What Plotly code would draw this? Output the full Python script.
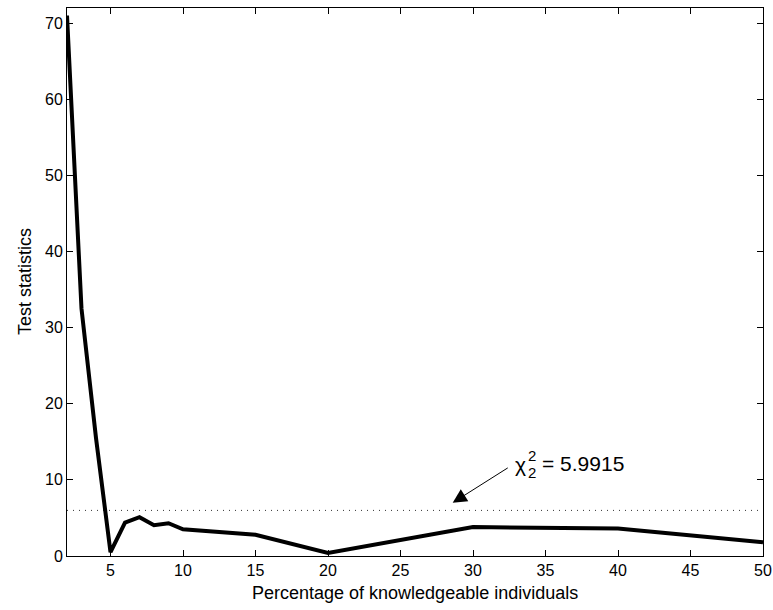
import plotly.graph_objects as go

# Percentage of knowledgeable individuals and the resulting test statistic
pct = [2, 3, 4, 5, 6, 7, 8, 9, 10, 15, 20, 30, 40, 50]
stat = [71.0, 32.5, 15.5, 0.5, 4.4, 5.1, 4.05, 4.3, 3.5, 2.8, 0.4, 3.8, 3.6, 1.8]

# Critical value of chi-square with 2 degrees of freedom
chi2_crit = 5.9915

x_ticks = [5, 10, 15, 20, 25, 30, 35, 40, 45, 50]
y_ticks = [0, 10, 20, 30, 40, 50, 60, 70]

FONT = "Liberation Sans, Arial, Helvetica, sans-serif"

fig = go.Figure()

fig.add_trace(go.Scatter(
    x=[pct[0], pct[-1]], y=[chi2_crit, chi2_crit], mode="lines",
    line=dict(color="#333333", width=1, dash="1px,5px"), hoverinfo="skip",
    showlegend=False,
))

fig.add_trace(go.Scatter(
    x=pct, y=stat, mode="lines",
    line=dict(color="black", width=4), showlegend=False,
))

# Arrow pointing at the critical-value line
fig.add_annotation(
    x=28.6, y=7.0, ax=32.5, ay=11.7, xref="x", yref="y", axref="x", ayref="y",
    text="", showarrow=True, arrowhead=2, arrowsize=2.8, arrowwidth=1,
    arrowcolor="black",
)

# Label: chi with stacked sub/superscript 2, then "= 5.9915"
lbl_x, lbl_y = 32.75, 12.2
fig.add_annotation(x=lbl_x, y=lbl_y, xref="x", yref="y", text="χ",
                   showarrow=False, xanchor="left", yanchor="middle",
                   yshift=-1,
                   font=dict(family=FONT, size=21, color="black"))
fig.add_annotation(x=lbl_x, y=lbl_y, xref="x", yref="y", text="2",
                   showarrow=False, xanchor="left", yanchor="middle",
                   xshift=13, yshift=8,
                   font=dict(family=FONT, size=15, color="black"))
fig.add_annotation(x=lbl_x, y=lbl_y, xref="x", yref="y", text="2",
                   showarrow=False, xanchor="left", yanchor="middle",
                   xshift=13, yshift=-9,
                   font=dict(family=FONT, size=15, color="black"))
fig.add_annotation(x=lbl_x, y=lbl_y, xref="x", yref="y", text="= 5.9915",
                   showarrow=False, xanchor="left", yanchor="middle",
                   xshift=27,
                   font=dict(family=FONT, size=21, color="black"))

axis_common = dict(
    showline=True, linecolor="black", linewidth=1, mirror="ticks",
    ticks="inside", ticklen=6, tickwidth=1, tickcolor="black",
    showgrid=False, zeroline=False, automargin=False,
    tickfont=dict(family=FONT, size=16, color="black"),
)

fig.update_xaxes(range=[2, 50], tickvals=x_ticks, **axis_common)
fig.update_yaxes(range=[0, 72], tickvals=y_ticks, **axis_common)

# Axis titles
fig.add_annotation(x=0.5, y=-0.045, xref="paper", yref="paper",
                   text="Percentage of knowledgeable individuals",
                   showarrow=False, xanchor="center", yanchor="top",
                   font=dict(family=FONT, size=18, color="black"))
fig.add_annotation(x=-0.043, y=0.5, xref="paper", yref="paper",
                   text="Test statistics", textangle=-90,
                   showarrow=False, xanchor="right", yanchor="middle",
                   font=dict(family=FONT, size=18, color="black"))

fig.update_layout(
    width=773, height=610,
    margin=dict(l=67, r=10, t=8, b=54),
    paper_bgcolor="white", plot_bgcolor="white",
)

fig.write_html("out.html")
